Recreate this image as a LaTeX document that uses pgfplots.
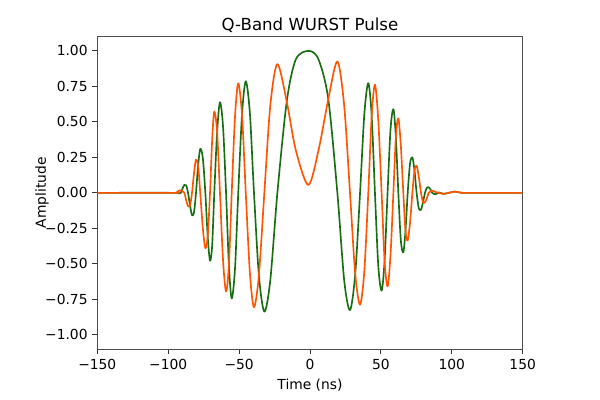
\documentclass[border=0pt]{standalone}
\usepackage{fontspec}
\setmainfont{DejaVu Sans}
\usepackage{pgfplots}
\pgfplotsset{compat=1.18}
\usetikzlibrary{calc}
\definecolor{cgreen}{RGB}{25,110,20}
\definecolor{corange}{RGB}{255,85,0}
\begin{document}
\begin{tikzpicture}
\begin{axis}[
  scale only axis, width=4.254in, height=3.123in,
  xmin=-150, xmax=150, ymin=-1.1, ymax=1.1,
  xtick={-150,-100,-50,0,50,100,150},
  xticklabels={−150,−100,−50,0,50,100,150},
  ytick={-1,-0.75,-0.5,-0.25,0,0.25,0.5,0.75,1},
  yticklabels={−1.00,−0.75,−0.50,−0.25,0.00,0.25,0.50,0.75,1.00},
  tick pos=left, tick align=outside, major tick length=3.5pt,
  tick style={black!80, line width=0.6pt},
  axis line style={black!70, line width=0.6pt},
  ticklabel style={font=\fontsize{10}{12}\selectfont},
  title={Q-Band WURST Pulse}, title style={font=\fontsize{12}{14}\selectfont, yshift=-0.09in},
  xlabel={Time (ns)}, ylabel={Amplitude},
  ylabel style={yshift=-0.13in},
  label style={font=\fontsize{10}{12}\selectfont},
  every axis plot/.append style={line width=1.2pt, line join=round, no marks, smooth},
]
\addplot[cgreen] coordinates {
(-150,0) (-95,0) (-93,-0.004) (-91.2,0) (-89.9,0.03) (-88.6,0.056) (-87.3,0.053)
(-86.0,0) (-84.6,-0.088) (-83.2,-0.157) (-81.8,-0.138) (-80.4,0) (-78.9,0.192)
(-77.4,0.31) (-75.6,0.247) (-73.8,0) (-72.15,-0.306) (-70.5,-0.478) (-69.0,-0.371)
(-67.5,0) (-65.5,0.428) (-63.5,0.638) (-61.35,0.471) (-59.2,0) (-57.2,-0.509)
(-55.2,-0.744) (-52.9,-0.535) (-50.6,0) (-47.95,0.55) (-45.3,0.786) (-42.4,0.562)
(-39.5,0) (-36.05,-0.58) (-32.2,-0.837) (-28.0,-0.615) (-23.0,0) (-16.4,0.643)
(-10,0.94) (-1,1.0) (6,0.94) (12.9,0.66) (19.3,0) (24.1,-0.615) (28.2,-0.826)
(31.9,-0.571) (35.3,0) (38.3,0.552) (41.1,0.773) (43.5,0.542) (45.8,0)
(48.15,-0.513) (50.5,-0.689) (52.6,-0.477) (54.7,0) (56.75,0.442) (58.8,0.59)
(60.55,0.394) (62.3,0) (64.05,-0.334) (65.8,-0.419) (67.35,-0.267) (68.9,0)
(70.55,0.207) (72.2,0.25) (73.7,0.156) (75.2,0) (76.75,-0.11) (78.3,-0.118)
(79.7,-0.065) (81.1,0) (82.4,0.037) (83.7,0.04) (85,0.025) (86.2,0) (88.5,-0.01)
(91,0.003) (94,-0.007) (98,0) (102,0.009) (106,0.002) (110,0) (150,0)
};
\addplot[corange] coordinates {
(-150,0) (-96,0) (-93.8,0.006) (-92,0.018) (-90.3,0.015) (-88.6,0) (-87.3,-0.053)
(-86.0,-0.094) (-84.6,-0.088) (-83.2,0) (-81.8,0.138) (-80.4,0.234) (-78.9,0.192)
(-77.4,0) (-75.6,-0.247) (-73.8,-0.389) (-72.15,-0.306) (-70.5,0) (-69.0,0.371)
(-67.5,0.573) (-65.5,0.428) (-63.5,0) (-61.35,-0.471) (-59.2,-0.695) (-57.2,-0.509)
(-55.2,0) (-52.9,0.535) (-50.6,0.771) (-47.95,0.55) (-45.3,0) (-42.4,-0.562)
(-39.5,-0.805) (-36.05,-0.58) (-32.2,0) (-28.0,0.615) (-23.0,0.907) (-16.4,0.643)
(-10,0.3) (-1.2,0.056) (6,0.3) (12.9,0.66) (19.3,0.926) (24.1,0.615) (28.2,0)
(31.9,-0.571) (35.3,-0.788) (38.3,-0.552) (41.1,0) (43.5,0.542) (45.8,0.762)
(48.15,0.513) (50.5,0) (52.6,-0.477) (54.7,-0.659) (56.75,-0.442) (58.8,0)
(60.55,0.394) (62.3,0.525) (64.05,0.334) (65.8,0) (67.35,-0.267) (68.9,-0.336)
(70.55,-0.207) (72.2,0) (73.7,0.156) (75.2,0.192) (76.75,0.11) (78.3,0)
(79.7,-0.065) (81.1,-0.066) (82.4,-0.037) (83.7,0) (85,0.012) (86.6,0.016)
(88.5,0.006) (91,0) (94,-0.007) (98,0) (102,0.009) (106,0.002) (110,0) (150,0)
};
\end{axis}
\path[use as bounding box] ($(current axis.south west)+(-0.973in,-0.51in)$) rectangle ($(current axis.north east)+(0.773in,0.367in)$);
\end{tikzpicture}
\end{document}
